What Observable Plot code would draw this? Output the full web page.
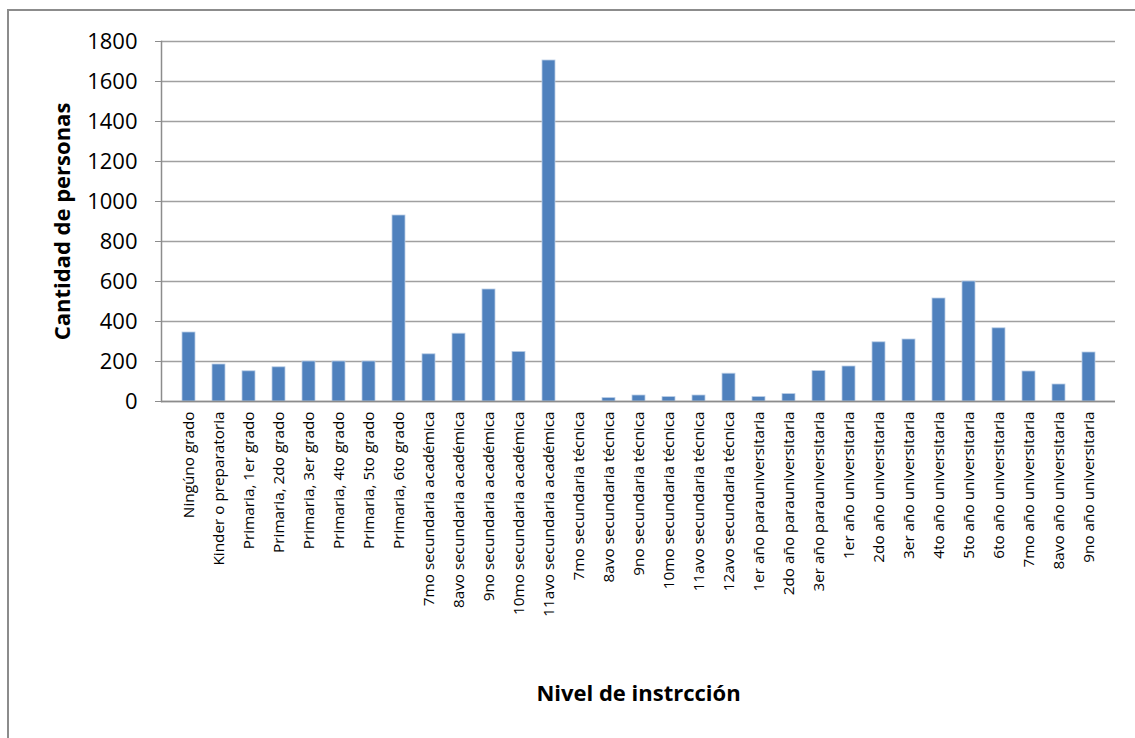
<!DOCTYPE html>
<html><head><meta charset="utf-8">
<script src="https://cdn.jsdelivr.net/npm/d3@7"></script>
<script src="https://cdn.jsdelivr.net/npm/@observablehq/plot@0.6"></script>
<style>
body{margin:0;background:#fff;}
#frame{position:absolute;left:7px;top:9px;width:1200px;height:800px;border-top:2px solid #8c8c8c;border-left:2px solid #8c8c8c;}
#chart{position:absolute;left:0;top:0;}
</style></head><body><div id="frame"></div><div id="chart"></div>
<script>
const categories = [
  "Ningúno grado","Kinder o preparatoria","Primaria, 1er grado","Primaria, 2do grado",
  "Primaria, 3er grado","Primaria, 4to grado","Primaria, 5to grado","Primaria, 6to grado",
  "7mo secundaria académica","8avo secundaria académica","9no secundaria académica",
  "10mo secundaria académica","11avo secundaria académica","7mo secundaria técnica",
  "8avo secundaria técnica","9no secundaria técnica","10mo secundaria técnica",
  "11avo secundaria técnica","12avo secundaria técnica","1er año parauniversitaria",
  "2do año parauniversitaria","3er año parauniversitaria","1er año universitaria",
  "2do año universitaria","3er año universitaria","4to año universitaria",
  "5to año universitaria","6to año universitaria","7mo año universitaria",
  "8avo año universitaria","9no año universitaria"
];
const values = [345,185,151,171,200,200,200,930,236,339,560,248,1705,0,17,30,22,30,139,22,37,152,175,296,310,515,600,366,150,85,245];
const yTicks = [0,200,400,600,800,1000,1200,1400,1600,1800];
const yTitle = "Cantidad de personas";
const xTitle = "Nivel de instrcción";

const data = categories.map((c, i) => ({nivel: c, personas: values[i]}));

const plot = Plot.plot({
  width: 1135, height: 738,
  marginLeft: 161, marginRight: 20, marginTop: 41, marginBottom: 337,
  style: {fontFamily: "'Open Sans', sans-serif", background: "transparent", color: "#000"},
  x: {domain: categories, padding: 0.58, label: null},
  y: {domain: [0, 1800], ticks: yTicks, label: null},
  marks: [
    Plot.gridY(yTicks, {stroke: "#a0a0a0", strokeOpacity: 1, strokeWidth: 1.5}),
    Plot.barY(data, {x: "nivel", y: "personas", fill: "#4f81bd", stroke: "#b9cde5", strokeWidth: 0.8}),
    Plot.ruleY([0], {stroke: "#8c8c8c", strokeWidth: 1.5}),
    Plot.frame({anchor: "left", stroke: "#8c8c8c", strokeWidth: 1.5}),
    Plot.axisY(yTicks, {tickSize: 6, tickPadding: 18, fontSize: 22, tickFormat: d => String(d), stroke: "#8c8c8c", fill: "#000", label: null}),
    Plot.axisX({tickRotate: -90, tickSize: 0, tickPadding: 10, fontSize: 15.3, fill: "#000", label: null}),
    Plot.text([yTitle], {frameAnchor: "left", dx: -99, rotate: -90, textAnchor: "middle", lineAnchor: "middle", fontWeight: "bold", fontSize: 22}),
    Plot.text([xTitle], {frameAnchor: "bottom", dy: 292, textAnchor: "middle", lineAnchor: "middle", fontWeight: "bold", fontSize: 22})
  ]
});
document.getElementById("chart").appendChild(plot);
</script>
</body></html>
